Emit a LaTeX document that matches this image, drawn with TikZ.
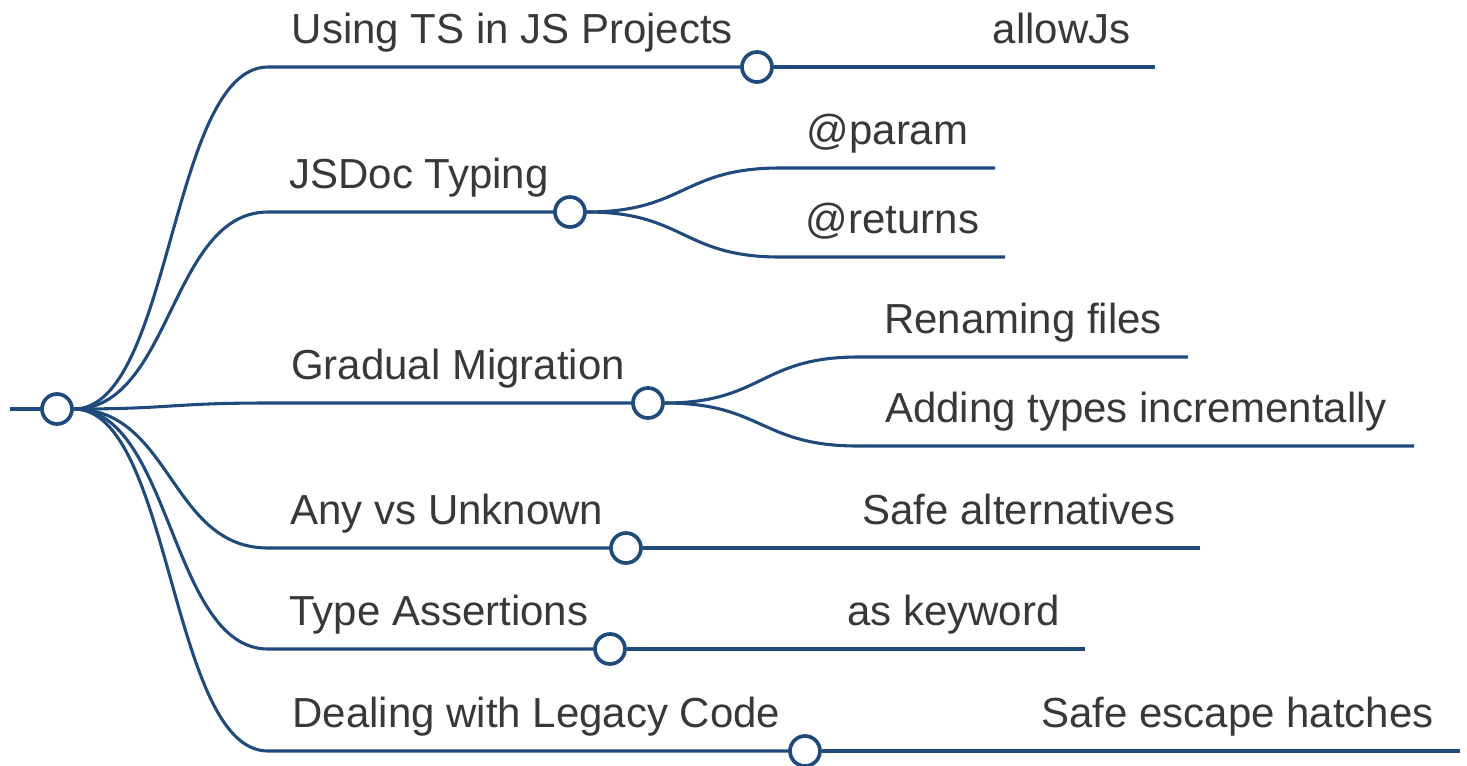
\documentclass[tikz,border=0pt]{standalone}
\usepackage{fontspec}
\setmainfont{Liberation Sans}
\usepackage{xcolor}
\definecolor{mapblue}{HTML}{1F4A7C}
\definecolor{mapgray}{HTML}{383838}
\pgfdeclarelayer{back}
\pgfsetlayers{back,main}

\begin{document}
\begin{tikzpicture}[x=0.02cm,y=-0.02cm,
  edge/.style={draw=mapblue,line width=1.75pt},
  hub/.style={circle,draw=mapblue,fill=white,line width=2.1pt,minimum size=0.6cm,inner sep=0pt},
  lbl/.style={text=mapgray,font=\fontsize{23.9}{28}\selectfont,anchor=base,yshift=13.6pt,inner sep=0pt}]
\useasboundingbox (0,0) rectangle (1467,765);
% hubs
\node[hub] (root) at (57,409) {};
\node[hub] (h1) at (757,67) {};
\node[hub] (h2) at (570,212) {};
\node[hub] (h3) at (648,403) {};
\node[hub] (h4) at (626,548) {};
\node[hub] (h5) at (610,649) {};
\node[hub] (h6) at (805,751) {};
% segment ends
\coordinate (stem) at (10,409);
\coordinate (b1) at (268,67);
\coordinate (b2) at (268,212);
\coordinate (b3) at (268,403);
\coordinate (b4) at (268,548);
\coordinate (b5) at (268,649);
\coordinate (b6) at (268,751);
\coordinate (l1) at (968,67);   \coordinate (l1e) at (1155,67);
\coordinate (l21) at (780,168); \coordinate (l21e) at (995,168);
\coordinate (l22) at (780,257); \coordinate (l22e) at (1005,257);
\coordinate (l31) at (858,357); \coordinate (l31e) at (1188,357);
\coordinate (l32) at (858,446); \coordinate (l32e) at (1414,446);
\coordinate (l4) at (838,548);  \coordinate (l4e) at (1200,548);
\coordinate (l5) at (822,649);  \coordinate (l5e) at (1085,649);
\coordinate (l6) at (1015,751); \coordinate (l6e) at (1460,751);
\begin{pgfonlayer}{back}
\draw[edge] (stem) -- (root.center);
% branches
\draw[edge] (root.east) .. controls +(98,0) and +(-98,0) .. (b1) -- node[lbl] (t1) {Using TS in JS Projects} (h1.center);
\draw[edge] (root.east) .. controls +(98,0) and +(-98,0) .. (b2) -- node[lbl] (t2) {JSDoc Typing} (h2.center);
\draw[edge] (root.east) .. controls +(98,0) and +(-98,0) .. (b3) -- node[lbl] (t3) {Gradual Migration} (h3.center);
\draw[edge] (root.east) .. controls +(98,0) and +(-98,0) .. (b4) -- node[lbl] (t4) {Any vs Unknown} (h4.center);
\draw[edge] (root.east) .. controls +(98,0) and +(-98,0) .. (b5) -- node[lbl] (t5) {Type Assertions} (h5.center);
\draw[edge] (root.east) .. controls +(98,0) and +(-98,0) .. (b6) -- node[lbl] (t6) {Dealing with Legacy Code} (h6.center);
% leaves
\draw[edge] (h1.east) .. controls +(98,0) and +(-98,0) .. (l1) -- node[lbl] (t11) {allowJs} (l1e);
\draw[edge] (h2.east) .. controls +(98,0) and +(-98,0) .. (l21) -- node[lbl] (t21) {@param} (l21e);
\draw[edge] (h2.east) .. controls +(98,0) and +(-98,0) .. (l22) -- node[lbl] (t22) {@returns} (l22e);
\draw[edge] (h3.east) .. controls +(98,0) and +(-98,0) .. (l31) -- node[lbl] (t31) {Renaming files} (l31e);
\draw[edge] (h3.east) .. controls +(98,0) and +(-98,0) .. (l32) -- node[lbl] (t32) {Adding types incrementally} (l32e);
\draw[edge] (h4.east) .. controls +(98,0) and +(-98,0) .. (l4) -- node[lbl] (t41) {Safe alternatives} (l4e);
\draw[edge] (h5.east) .. controls +(98,0) and +(-98,0) .. (l5) -- node[lbl] (t51) {as keyword} (l5e);
\draw[edge] (h6.east) .. controls +(98,0) and +(-98,0) .. (l6) -- node[lbl] (t61) {Safe escape hatches} (l6e);
\end{pgfonlayer}
\end{tikzpicture}
\end{document}
